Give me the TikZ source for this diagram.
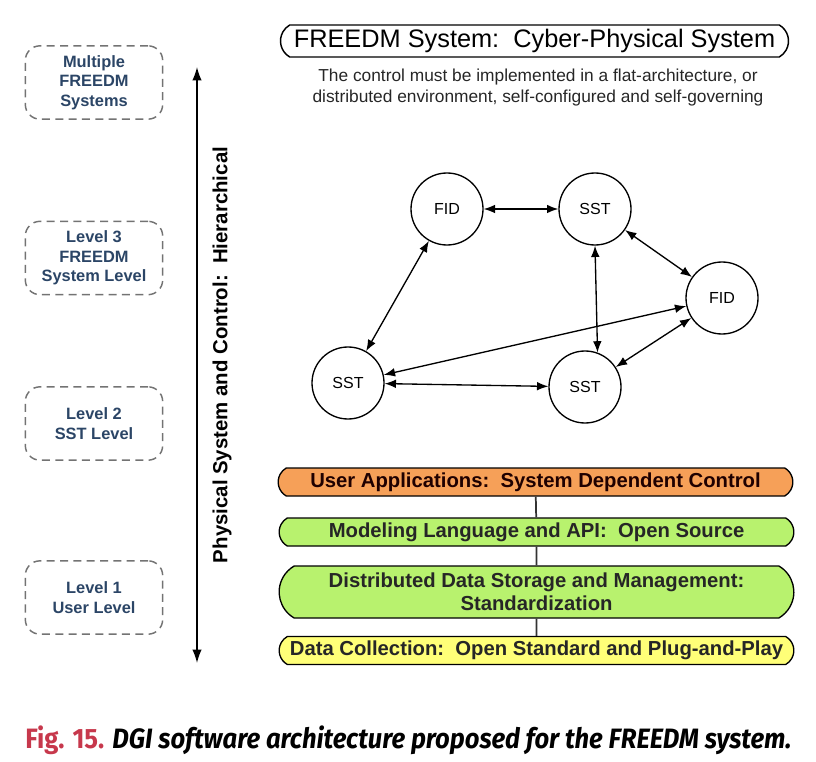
\documentclass[tikz,border=0pt]{standalone}
\usepackage{fontspec}
\setmainfont{Liberation Sans}
\newfontfamily\capfont[FakeStretch=0.915]{Fira Sans}
\usetikzlibrary{arrows.meta,shapes.misc,positioning}
\definecolor{lvlblue}{rgb}{0.17,0.27,0.40}
\definecolor{figred}{rgb}{0.78,0.22,0.30}
\definecolor{uaorange}{RGB}{246,160,88}
\definecolor{apigreen}{RGB}{184,242,110}
\definecolor{dcyellow}{RGB}{255,255,120}

\begin{document}
\begin{tikzpicture}[x=0.75pt,y=-0.75pt,
    lvlbox/.style={draw=black!55,line width=1.1pt,dash pattern=on 6pt off 4pt,
      rounded corners=11pt,minimum width=103pt,minimum height=55pt,align=center,
      text=lvlblue,font=\bfseries\fontsize{12.3}{14.6}\selectfont},
    layerbox/.style={draw,line width=1pt,rounded rectangle,
      rounded rectangle arc length=120,minimum width=390pt,align=center,inner xsep=2pt,
      font=\bfseries\fontsize{15.2}{17.5}\selectfont},
    peer/.style={draw,circle,line width=1pt,minimum size=54pt,inner sep=0pt,
      font=\fontsize{12}{13}\selectfont},
    link/.style={{Latex[length=8.5pt,width=6.5pt]}-{Latex[length=8.5pt,width=6.5pt]},line width=1pt}]
  \useasboundingbox (0,0) rectangle (816,762);
  %Levels on the left
  \node[lvlbox] (multi) at (94,82.5) {Multiple\\FREEDM\\Systems};
  \node[lvlbox] (lvl3) at (94,258) {Level 3\\FREEDM\\System Level};
  \node[lvlbox] (lvl2) at (94,423.5) {Level 2\\SST Level};
  \node[lvlbox] (lvl1) at (94,597.5) {Level 1\\User Level};
  %Hierarchy axis
  \coordinate (top) at (197,67);
  \coordinate (bot) at (197,663);
  \draw[{Latex[length=10pt,width=7pt]}-{Latex[length=10pt,width=7pt]},line width=1.1pt] (top) -- (bot);
  \node[rotate=90,font=\bfseries\fontsize{15.3}{17}\selectfont] (hier) at (222,355)
    {Physical System and Control:\ \ Hierarchical};
  %Title
  \node[draw,line width=1.1pt,rounded rectangle,rounded rectangle arc length=120,
    minimum width=383pt,minimum height=24pt,inner sep=1pt,font=\fontsize{19}{21}\selectfont]
    (title) at (534.5,41) {FREEDM System:\ \ Cyber-Physical System};
  \node[align=center,font=\fontsize{13}{15.75}\selectfont,text=black!85] (note) at (538,87.5)
    {The control must be implemented in a flat-architecture, or\\
     distributed environment, self-configured and self-governing};
  %Peers
  \node[peer] (fid1) at (447,209) {FID};
  \node[peer] (sst1) at (595,209) {SST};
  \node[peer] (fid2) at (722,298) {FID};
  \node[peer] (sst2) at (348,383) {SST};
  \node[peer] (sst3) at (585,387) {SST};
  \draw[link] (fid1) -- (sst1);
  \draw[link] (sst1) -- (fid2);
  \draw[link] (fid1) -- (sst2);
  \draw[link] (sst1.south) -- (sst3.70);
  \draw[link] (fid2) -- (sst2);
  \draw[link] (fid2) -- (sst3);
  \draw[link] (sst2) -- (sst3);
  %Software layers
  \node[layerbox,fill=uaorange,minimum height=21pt,text=black!80!red!60!black] (ua) at (535.5,482)
    {User Applications:\ \ System Dependent Control};
  \node[layerbox,fill=apigreen,minimum height=21pt,text=black!85] (api) at (536.5,532)
    {Modeling Language and API:\ \ Open Source};
  \node[layerbox,fill=apigreen,minimum height=39pt,text=black!85] (dds) at (536.5,592)
    {Distributed Data Storage and Management:\\Standardization};
  \node[layerbox,fill=dcyellow,minimum height=20pt,text=black!85] (dc) at (536.5,650.5)
    {Data Collection:\ \ Open Standard and Plug-and-Play};
  \foreach \a/\b in {ua/api,api/dds,dds/dc}
    \draw[line width=1.3pt,black!80] (\a) -- (\b);
  %Caption
  \node[anchor=base west,font=\capfont\bfseries\fontsize{21}{23}\selectfont,inner sep=0pt] (cap) at (25,748)
    {\textcolor{figred}{Fig. 15.} \itshape DGI software architecture proposed for the FREEDM system.};
\end{tikzpicture}
\end{document}
